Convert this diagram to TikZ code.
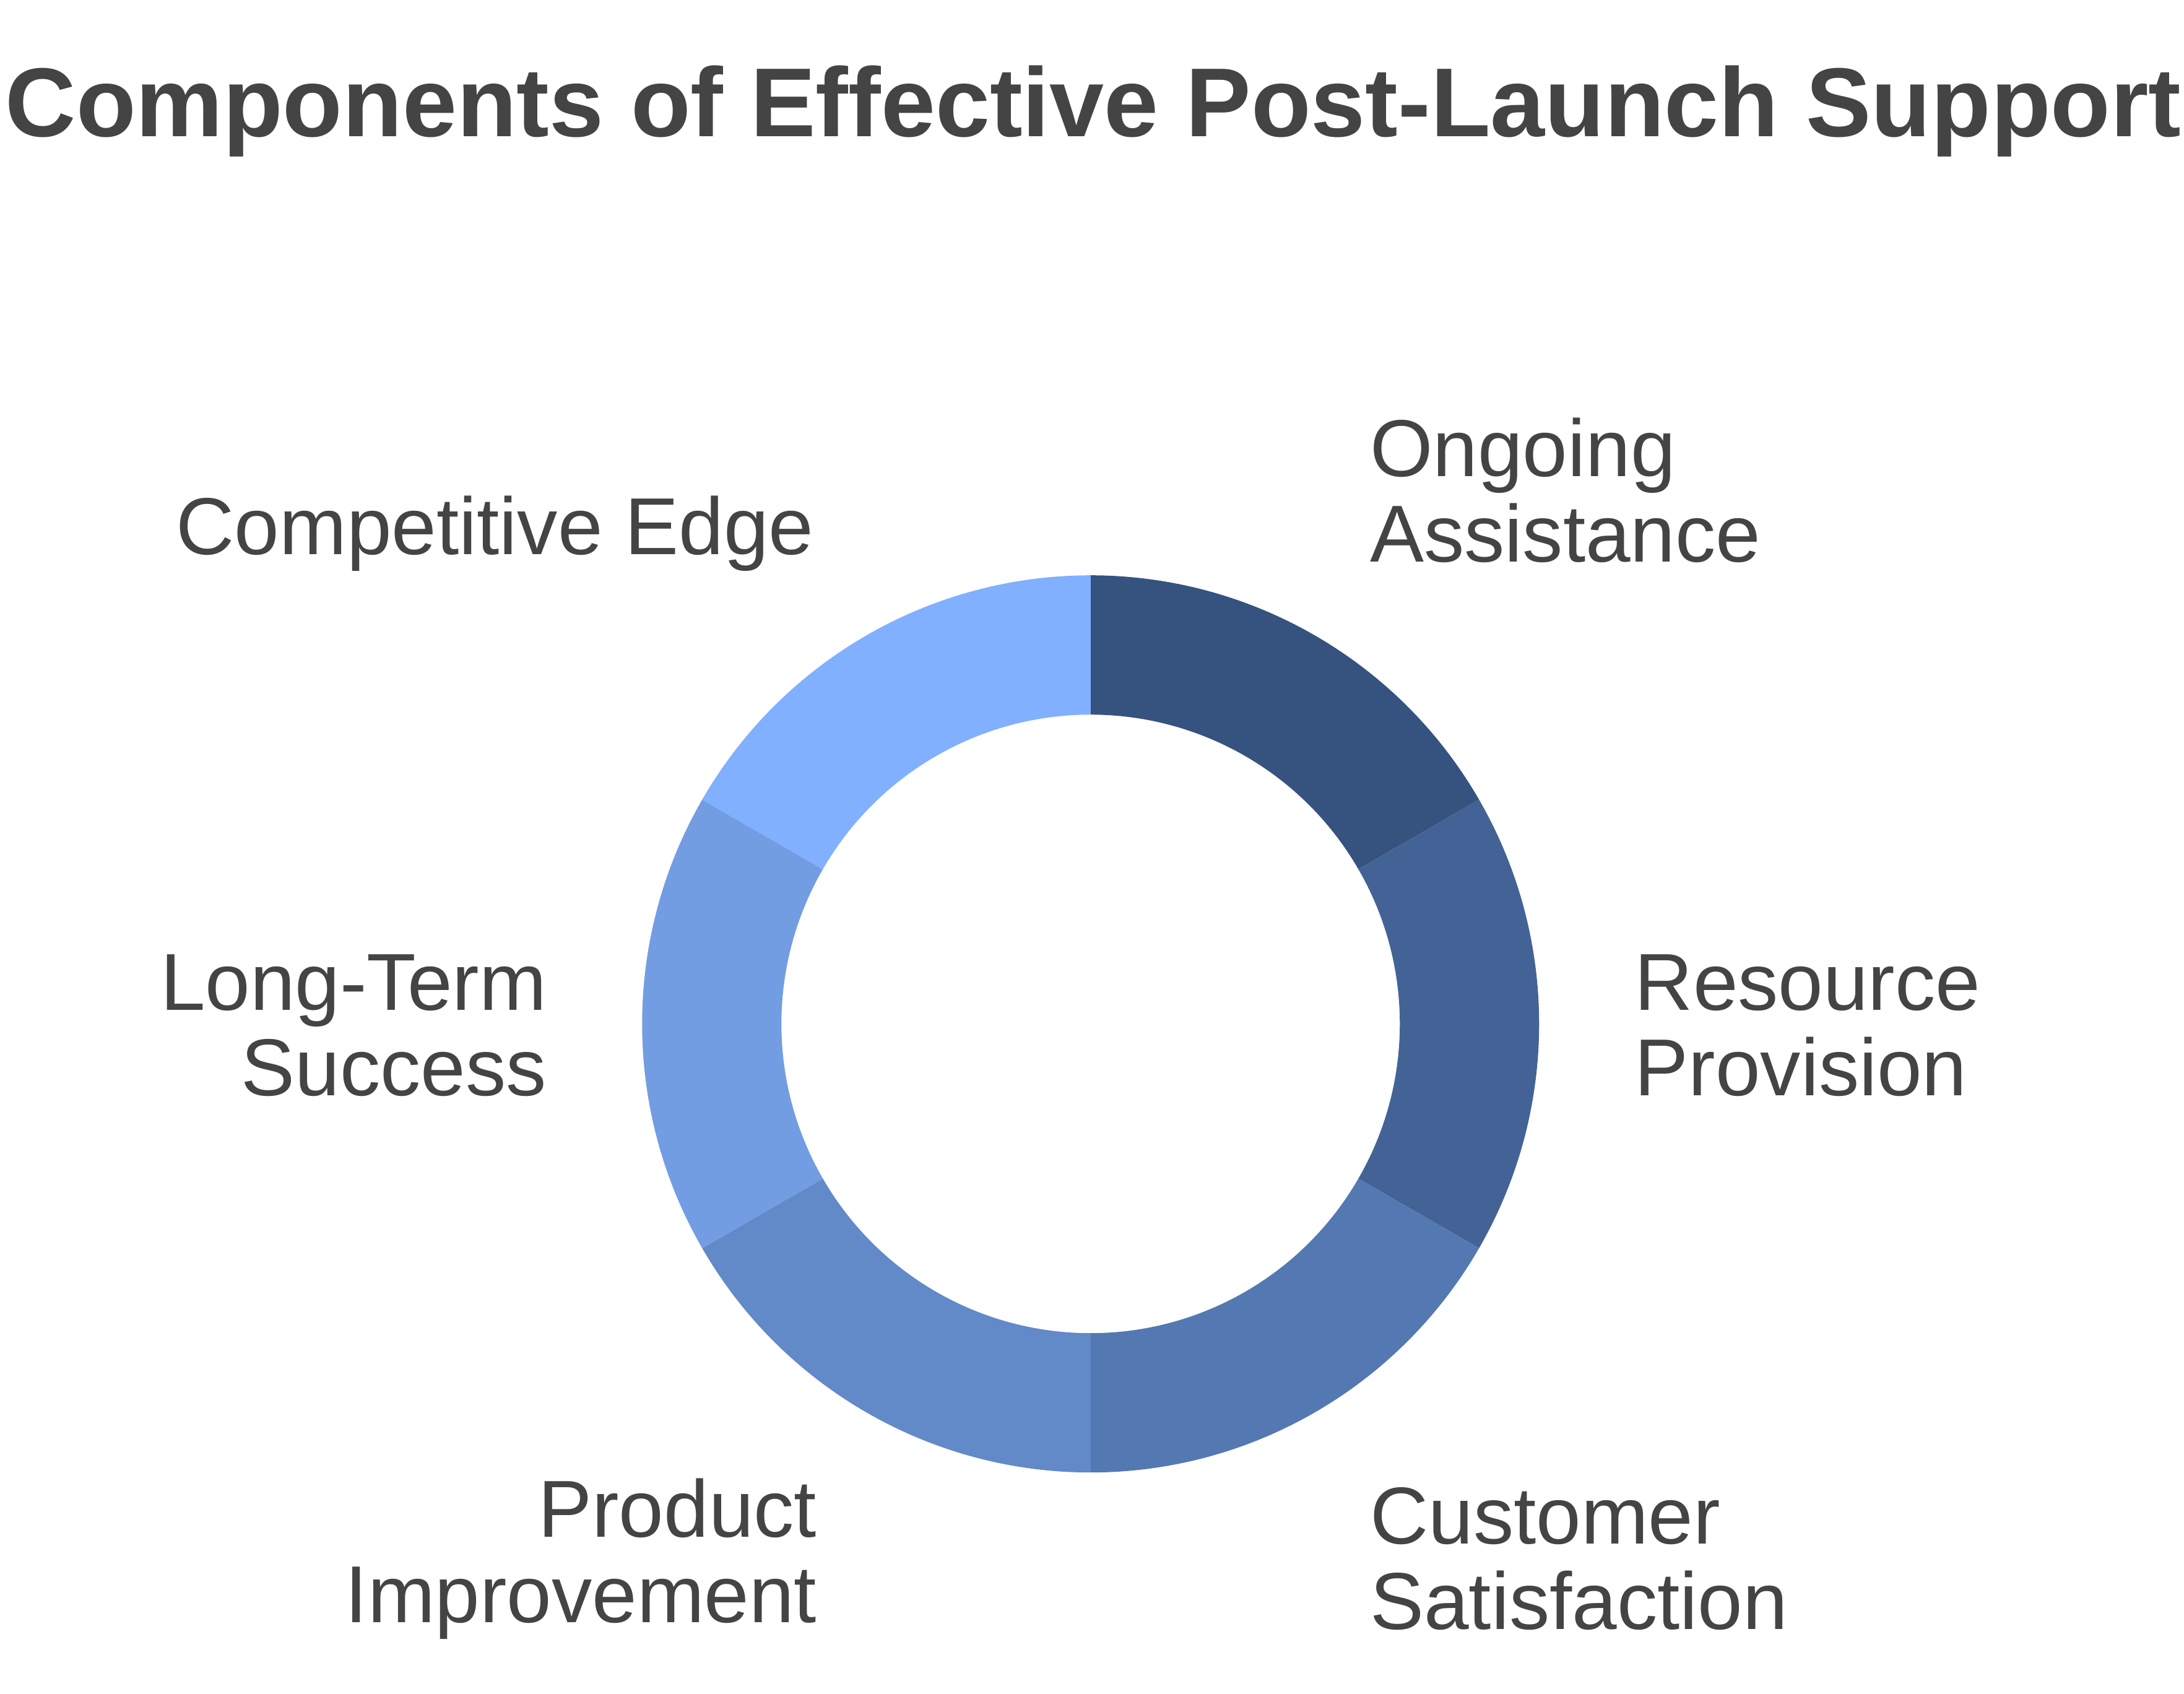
\documentclass[tikz,border=0pt]{standalone}
\usepackage{fontspec}
\setmainfont{Liberation Sans}
\usetikzlibrary{positioning,calc}
\definecolor{textgray}{HTML}{444444}
\definecolor{segA}{HTML}{36527F}
\definecolor{segB}{HTML}{436396}
\definecolor{segC}{HTML}{5478B2}
\definecolor{segD}{HTML}{6289C8}
\definecolor{segE}{HTML}{729DE2}
\definecolor{segF}{HTML}{80B0FF}
\begin{document}
\begin{tikzpicture}[x=1cm,y=1cm]
  \useasboundingbox (0,0) rectangle (15.68,12.16);
  \tikzset{
    segLabel/.style={text=textgray, font=\fontsize{16.5}{17.5}\selectfont, inner sep=0pt},
    segLabelL/.style={segLabel, anchor=west, align=left},
    segLabelR/.style={segLabel, anchor=east, align=right},
    title/.style={text=textgray, font=\fontsize{20}{24}\selectfont\bfseries, inner sep=0pt}
  }
  \coordinate (center) at (7.83,4.81);

  %% ring segments
  \foreach \from/\to/\col in {90/30/segA, 30/-30/segB, -30/-90/segC,
                              -90/-150/segD, -150/-210/segE, 150/90/segF}
    \fill [\col] ($(center)+(\from:3.22)$) arc (\from:\to:3.22)
      -- ($(center)+(\to:2.22)$) arc (\to:\from:2.22) -- cycle;

  %% labels
  \node [title] (heading) at (7.85,11.36) {Components of Effective Post-Launch Support};
  \node [segLabelL] (ongoing) at (9.83,8.64) {Ongoing\\Assistance};
  \node [segLabelL] (resource) at (11.73,4.80) {Resource\\Provision};
  \node [segLabelL] (customer) at (9.83,0.97) {Customer\\Satisfaction};
  \node [segLabelR] (product) at (5.87,0.97) {Product\\Improvement};
  \node [segLabelR] (longterm) at (3.93,4.80) {Long-Term\\Success};
  \node [segLabelR] (competitive) at (5.85,8.33) {Competitive Edge};
\end{tikzpicture}
\end{document}
